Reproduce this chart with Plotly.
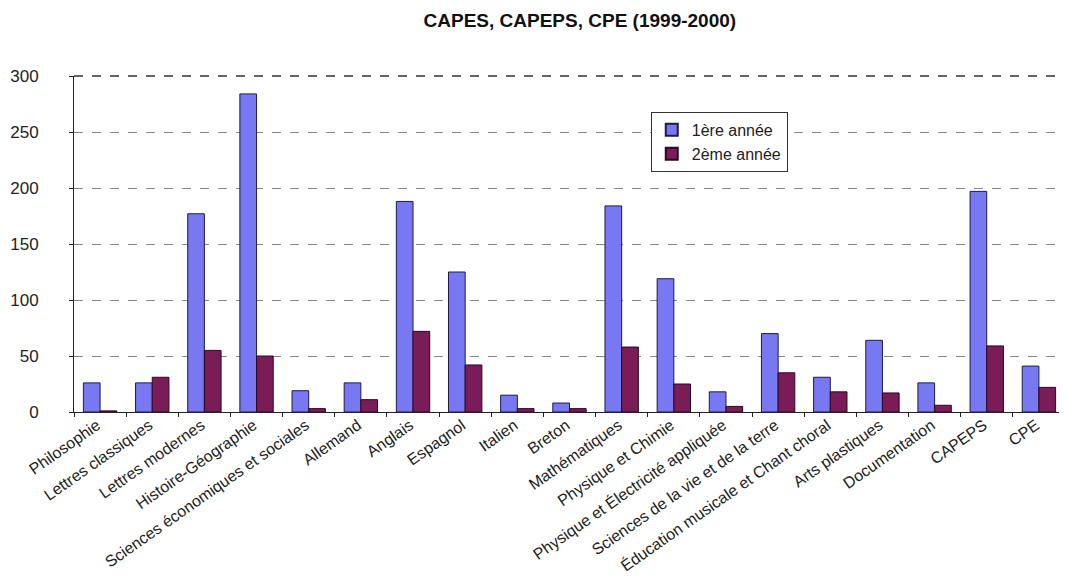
import plotly.graph_objects as go

categories = [
    "Philosophie", "Lettres classiques", "Lettres modernes", "Histoire-Géographie",
    "Sciences économiques et sociales", "Allemand", "Anglais", "Espagnol", "Italien",
    "Breton", "Mathématiques", "Physique et Chimie", "Physique et Électricité appliquée",
    "Sciences de la vie et de la terre", "Éducation musicale et Chant choral",
    "Arts plastiques", "Documentation", "CAPEPS", "CPE",
]
annee1 = [26, 26, 177, 284, 19, 26, 188, 125, 15, 8, 184, 119, 18, 70, 31, 64, 26, 197, 41]
annee2 = [1, 31, 55, 50, 3, 11, 72, 42, 3, 3, 58, 25, 5, 35, 18, 17, 6, 59, 22]
y_ticks = [0, 50, 100, 150, 200, 250, 300]

fig = go.Figure()
fig.add_trace(go.Bar(x=categories, y=annee1, name="1ère année",
                     marker=dict(color="#7878F2", line=dict(color="#1c1c4a", width=1))))
fig.add_trace(go.Bar(x=categories, y=annee2, name="2ème année",
                     marker=dict(color="#7A1C58", line=dict(color="#2a0a1e", width=1))))

fig.update_layout(
    width=1059, height=575,
    margin=dict(l=66, r=2, t=68, b=171),
    paper_bgcolor="white", plot_bgcolor="white",
    font=dict(family="Liberation Sans, Arial, sans-serif", color="#222"),
    title=dict(text="<b>CAPES, CAPEPS, CPE (1999-2000)</b>", x=0.54, xanchor="center",
               y=0.99, yanchor="top", font=dict(size=19, color="#111")),
    barmode="group", bargap=0.36, bargroupgap=0,
    showlegend=True,
    legend=dict(x=0.582, y=0.893, xanchor="left", yanchor="top",
                bgcolor="white", bordercolor="#333", borderwidth=1,
                font=dict(size=16, color="#222"), traceorder="normal",
                itemsizing="constant", tracegroupgap=0, itemwidth=30),
    xaxis=dict(tickangle=-35, tickfont=dict(size=16, color="#222"),
               showline=True, linecolor="#222", linewidth=1,
               ticks="outside", tickson="boundaries", ticklen=4, tickcolor="#222",
               ticklabelstandoff=-3, ticklabelshift=-3,
               showgrid=False, automargin=False),
    yaxis=dict(range=[0, 300], tickvals=y_ticks, tickfont=dict(size=17, color="#222"),
               showline=True, linecolor="#222", linewidth=1,
               ticks="outside", ticklen=4, tickcolor="#222", ticklabelstandoff=27,
               showgrid=True, gridcolor="#888", griddash="dash", gridwidth=1,
               zeroline=False, automargin=False),
)
fig.add_shape(type="line", xref="x domain", yref="y domain", x0=0, x1=1, y0=1, y1=1,
              line=dict(color="#333", width=1.3, dash="dash"))

fig.write_html("out.html")
